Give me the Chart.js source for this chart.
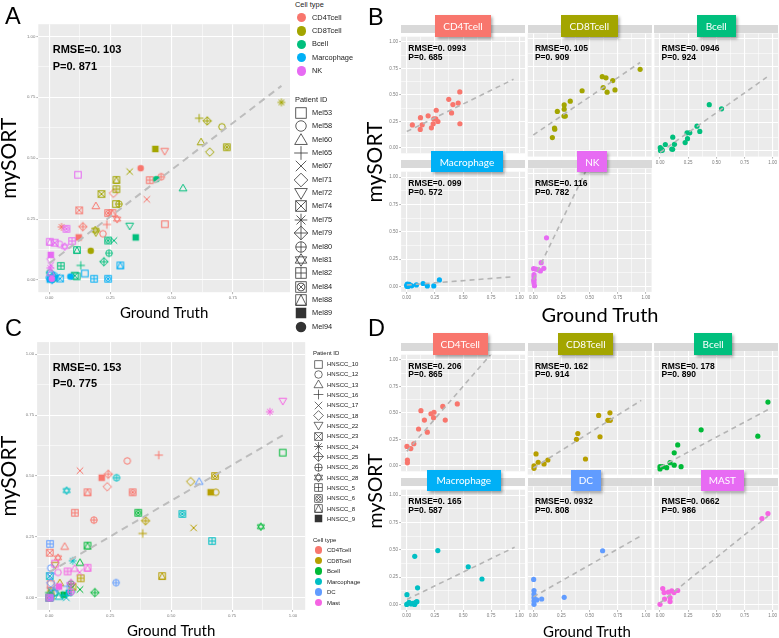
<!DOCTYPE html>
<html><head><meta charset="utf-8">
<script src="https://cdn.jsdelivr.net/npm/chart.js@4.4.1/dist/chart.umd.min.js"></script>
<style>
html,body{margin:0;padding:0;background:#fff;overflow:hidden}
#fig{position:relative;width:779px;height:638px;overflow:hidden;font-family:"Liberation Sans",Arial,sans-serif;color:#000}
.t{position:absolute;white-space:nowrap;line-height:1}
canvas{position:absolute}
.box{position:absolute;color:#fff;font-family:Lato,"Open Sans",sans-serif;font-size:10px;display:flex;align-items:center;justify-content:center;box-shadow:1.5px 2px 3px rgba(0,0,0,0.35)}
.strip{position:absolute;background:#D9D9D9}
</style></head><body><div id="fig"></div>
<script>
// ---------------- DATA ----------------
const tickLabels = ['0.00','0.25','0.50','0.75','1.00'];

// Melanoma (panels A, B)
const melPatients = ['Mel53','Mel58','Mel60','Mel65','Mel67','Mel71','Mel72','Mel74','Mel75','Mel79','Mel80','Mel81','Mel82','Mel84','Mel88','Mel89','Mel94'];
const melCellTypes = ['CD4Tcell','CD8Tcell','Bcell','Marcophage','NK'];
const melFacetLabels = ['CD4Tcell','CD8Tcell','Bcell','Macrophage','NK'];
const melColors = ['#F8766D','#A3A500','#00BF7D','#00B0F6','#E76BF3'];
// [patient, ground truth, mySORT]
const mel_CD4Tcell = [['Mel75',0.050,0.218],['Mel89',0.120,0.175],['Mel74',0.122,0.286],['Mel79',0.137,0.219],['Mel60',0.190,0.304],['Mel58',0.219,0.190],['Mel65',0.235,0.228],['Mel84',0.240,0.275],['Mel71',0.262,0.356],['Mel88',0.258,0.275],['Mel81',0.277,0.250],['Mel67',0.398,0.331],['Mel94',0.373,0.459],['Mel82',0.410,0.410],['Mel80',0.457,0.424],['Mel72',0.471,0.529],['Mel53',0.472,0.229]];
const mel_CD8Tcell = [['Mel75',0.948,0.729],['Mel65',0.612,0.664],['Mel79',0.645,0.653],['Mel58',0.705,0.629],['Mel60',0.620,0.566],['Mel84',0.725,0.545],['Mel71',0.655,0.525],['Mel89',0.433,0.538],['Mel67',0.328,0.445],['Mel88',0.274,0.411],['Mel82',0.274,0.373],['Mel74',0.213,0.353],['Mel53',0.272,0.312],['Mel80',0.284,0.312],['Mel81',0.188,0.205],['Mel72',0.190,0.195],['Mel94',0.169,0.120]];
const mel_Bcell = [['Mel60',0.546,0.377],['Mel94',0.437,0.414],['Mel72',0.328,0.222],['Mel89',0.353,0.175],['Mel84',0.240,0.162],['Mel67',0.264,0.162],['Mel80',0.244,0.110],['Mel79',0.223,0.075],['Mel65',0.128,0.060],['Mel88',0.113,0.123],['Mel82',0.047,0.058],['Mel74',0.104,0.018],['Mel53',0.112,0.015],['Mel58',0.002,0.030],['Mel71',0.015,0.015],['Mel75',0.004,0.004],['Mel81',0.020,0.006]];
const mel_Marcophage = [['Mel88',0.290,0.060],['Mel53',0.145,0.027],['Mel82',0.183,0.005],['Mel84',0.240,0.005],['Mel94',0.086,0.014],['Mel74',0.044,0.006],['Mel80',0.021,0.018],['Mel58',0.000,0.010],['Mel65',0.010,0.000],['Mel67',0.030,0.012],['Mel72',0.005,0.022],['Mel79',0.015,0.004],['Mel89',0.002,0.002]];
const mel_NK = [['Mel53',0.117,0.432],['Mel84',0.070,0.210],['Mel82',0.093,0.160],['Mel81',0.063,0.137],['Mel58',0.042,0.147],['Mel88',0.002,0.157],['Mel74',0.022,0.153],['Mel89',0.006,0.103],['Mel71',0.006,0.085],['Mel67',0.006,0.060],['Mel75',0.004,0.050],['Mel60',0.006,0.030],['Mel94',0.010,0.005]];
const statsA = ['0. 103','0. 871'];
const statsB = [['0. 0993','0. 685'],['0. 105','0. 909'],['0. 0946','0. 924'],['0. 099','0. 572'],['0. 116','0. 782']];
// fitted dashed lines [x0, y0, x1, y1]
const fitA = [0, 0.069, 0.948, 0.797];
const fitB = [[0,0.155,0.948,0.648],[0,0.143,0.948,0.790],[0,-0.013,0.948,0.659],[0,0.013,0.948,0.089],[0,0.058,0.948,2.03]];

// HNSCC (panels C, D)
const hnPatients = ['HNSCC_10','HNSCC_12','HNSCC_13','HNSCC_16','HNSCC_17','HNSCC_18','HNSCC_22','HNSCC_23','HNSCC_24','HNSCC_25','HNSCC_26','HNSCC_28','HNSCC_5','HNSCC_6','HNSCC_8','HNSCC_9'];
const hnCellTypes = ['CD4Tcell','CD8Tcell','Bcell','Marcophage','DC','Mast'];
const hnFacetLabels = ['CD4Tcell','CD8Tcell','Bcell','Macrophage','DC','MAST'];
const hnColors = ['#F8766D','#B79F00','#00BA38','#00BFC4','#619CFF','#F564E3'];
const hn_CD4Tcell = [['HNSCC_17',0.126,0.522],['HNSCC_9',0.215,0.493],['HNSCC_25',0.242,0.507],['HNSCC_12',0.320,0.562],['HNSCC_16',0.449,0.586],['HNSCC_18',0.238,0.456],['HNSCC_8',0.157,0.433],['HNSCC_6',0.342,0.433],['HNSCC_5',0.105,0.349],['HNSCC_26',0.183,0.319],['HNSCC_13',0.063,0.210],['HNSCC_23',0.002,0.185],['HNSCC_28',0.036,0.164],['HNSCC_10',0.006,0.056],['HNSCC_22',0.006,0.030]];
const hn_CD8Tcell = [['HNSCC_18',0.580,0.477],['HNSCC_6',0.680,0.500],['HNSCC_9',0.662,0.433],['HNSCC_12',0.683,0.433],['HNSCC_17',0.592,0.287],['HNSCC_25',0.395,0.316],['HNSCC_16',0.383,0.264],['HNSCC_8',0.463,0.089],['HNSCC_5',0.129,0.080],['HNSCC_13',0.043,0.060],['HNSCC_22',0.024,0.134],['HNSCC_23',0.095,0.045],['HNSCC_10',0.006,0.006],['HNSCC_24',0.006,0.027]];
const hn_Bcell = [['HNSCC_10',0.958,0.596],['HNSCC_28',0.868,0.292],['HNSCC_6',0.365,0.349],['HNSCC_8',0.157,0.214],['HNSCC_13',0.126,0.144],['HNSCC_17',0.126,0.034],['HNSCC_25',0.187,0.021],['HNSCC_26',0.089,0.056],['HNSCC_9',0.059,0.012],['HNSCC_12',0.024,0.021],['HNSCC_16',0.000,0.021],['HNSCC_5',0.000,0.000]];
const hn_Marcophage = [['HNSCC_28',0.071,0.440],['HNSCC_26',0.276,0.493],['HNSCC_6',0.546,0.344],['HNSCC_5',0.668,0.233],['HNSCC_24',0.096,0.152],['HNSCC_23',0.002,0.089],['HNSCC_10',0.000,0.000],['HNSCC_12',0.020,0.020],['HNSCC_13',0.040,0.005],['HNSCC_16',0.055,0.010],['HNSCC_17',0.070,0.000],['HNSCC_9',0.080,0.020],['HNSCC_18',0.090,0.025]];
const hn_DC = [['HNSCC_13',0.615,0.477],['HNSCC_26',0.274,0.062],['HNSCC_5',0.003,0.221],['HNSCC_12',0.006,0.122],['HNSCC_22',0.006,0.090],['HNSCC_18',0.006,0.060],['HNSCC_17',0.006,0.030],['HNSCC_9',0.006,0.000],['HNSCC_25',0.030,0.039],['HNSCC_16',0.074,0.047]];
const hn_Mast = [['HNSCC_22',0.958,0.808],['HNSCC_24',0.905,0.764],['HNSCC_8',0.157,0.123],['HNSCC_13',0.104,0.120],['HNSCC_17',0.124,0.104],['HNSCC_5',0.075,0.108],['HNSCC_10',0.024,0.140],['HNSCC_12',0.036,0.104],['HNSCC_25',0.089,0.059],['HNSCC_26',0.089,0.024],['HNSCC_9',0.040,0.046],['HNSCC_6',0.000,0.000]];
const statsC = ['0. 153','0. 775'];
const statsD = [['0. 206','0. 865'],['0. 162','0. 914'],['0. 178','0. 890'],['0. 165','0. 587'],['0. 0932','0. 808'],['0. 0662','0. 986']];
const fitC = [0, 0.105, 0.958, 0.667];
const fitD = [[0,0.138,0.958,1.313],[0,0.009,0.958,0.611],[0,0.017,0.958,0.528],[0,0.045,0.958,0.524],[0,0.066,0.958,0.611],[0,0.012,0.958,0.786]];

// ---------------- DRAWING ----------------
const fig = document.getElementById('fig');
Chart.defaults.font.family = '"Liberation Sans", Arial, sans-serif';

function drawGlyph(ctx, k, cx, cy, s, col, lw) {
  const h = s / 2;
  ctx.save();
  ctx.strokeStyle = col; ctx.fillStyle = col; ctx.lineWidth = lw;
  const line = (x1,y1,x2,y2) => { ctx.beginPath(); ctx.moveTo(x1,y1); ctx.lineTo(x2,y2); ctx.stroke(); };
  const sq = () => ctx.strokeRect(cx-h, cy-h, s, s);
  const circ = (r) => { ctx.beginPath(); ctx.arc(cx,cy,r,0,Math.PI*2); ctx.stroke(); };
  const poly = (pts) => { ctx.beginPath(); pts.forEach((p,i)=> i ? ctx.lineTo(p[0],p[1]) : ctx.moveTo(p[0],p[1])); ctx.closePath(); ctx.stroke(); };
  const plus = (r) => { line(cx-r,cy,cx+r,cy); line(cx,cy-r,cx,cy+r); };
  const cross = (r) => { line(cx-r,cy-r,cx+r,cy+r); line(cx-r,cy+r,cx+r,cy-r); };
  const dia = () => poly([[cx,cy-h*1.3],[cx+h*1.3,cy],[cx,cy+h*1.3],[cx-h*1.3,cy]]);
  switch (k) {
    case 0: sq(); break;
    case 1: circ(h); break;
    case 2: poly([[cx,cy-h*1.2],[cx+h*1.2,cy+h*0.85],[cx-h*1.2,cy+h*0.85]]); break;
    case 3: plus(h*1.3); break;
    case 4: cross(h); break;
    case 5: dia(); break;
    case 6: poly([[cx,cy+h*1.2],[cx+h*1.2,cy-h*0.85],[cx-h*1.2,cy-h*0.85]]); break;
    case 7: sq(); cross(h); break;
    case 8: plus(h*1.2); cross(h*0.85); break;
    case 9: dia(); plus(h*1.3); break;
    case 10: circ(h); plus(h); break;
    case 11: poly([[cx,cy-h*1.2],[cx+h*1.1,cy+h*0.6],[cx-h*1.1,cy+h*0.6]]); poly([[cx,cy+h*1.2],[cx+h*1.1,cy-h*0.6],[cx-h*1.1,cy-h*0.6]]); break;
    case 12: sq(); plus(h); break;
    case 13: sq(); circ(h*0.75); cross(h*0.53); break;
    case 14: sq(); poly([[cx-h,cy+h],[cx,cy-h],[cx+h,cy+h]]); break;
    case 15: ctx.fillRect(cx-h, cy-h, s, s); break;
    case 16: ctx.beginPath(); ctx.arc(cx,cy,h,0,Math.PI*2); ctx.fill(); break;
  }
  ctx.restore();
}
function newGlyph(k, col, s, lw) {
  const n = Math.ceil(s*1.7) + 2;
  const c = document.createElement('canvas'); c.width = n; c.height = n;
  drawGlyph(c.getContext('2d'), k, n/2, n/2, s, col, lw);
  return c;
}
const glyphCache = {};
function glyph(k, col, s, lw) {
  const key = k + '|' + col + '|' + s + '|' + lw;
  return glyphCache[key] || (glyphCache[key] = newGlyph(k, col, s, lw));
}

function isMajor(v) { return Math.abs(v*4 - Math.round(v*4)) < 1e-6; }
function tickText(v) { const i = Math.round(v*4); return (isMajor(v) && i >= 0 && i < tickLabels.length) ? tickLabels[i] : ''; }

function axis(range, show, size, fs, title) {
  const o = {
    type:'linear', min:range[0], max:range[1],
    afterFit(s) { if (s.isHorizontal()) s.height = size; else s.width = size; },
    ticks:{ stepSize:0.125, includeBounds:false, autoSkip:false, maxRotation:0, minRotation:0, display:show, padding:1, color:'#7a7a7a', font:{size:fs}, callback:(v)=>tickText(v) },
    grid:{ color:'#FFFFFF', lineWidth:(c)=> (c.tick && isMajor(c.tick.value)) ? 1.1 : 0.55, drawTicks:show, tickLength:2, tickWidth:0.7,
      tickColor:(c)=> (c.tick && isMajor(c.tick.value)) ? '#9a9a9a' : 'rgba(0,0,0,0)' },
    border:{ display:false }
  };
  if (title) o.title = title;
  return o;
}
const panelBg = { id:'panelBg', beforeDraw(chart) {
  const {ctx, chartArea:a} = chart; ctx.save(); ctx.fillStyle = '#EBEBEB';
  ctx.fillRect(a.left, a.top, a.right - a.left, a.bottom - a.top); ctx.restore(); } };

function makeChart(o) {
  const cv = document.createElement('canvas');
  cv.width = o.rect.w; cv.height = o.rect.h;
  cv.style.left = o.rect.l + 'px'; cv.style.top = o.rect.t + 'px';
  cv.style.width = o.rect.w + 'px'; cv.style.height = o.rect.h + 'px';
  fig.appendChild(cv);
  const pad = { left: o.plot.l - o.rect.l - o.yW, top: o.plot.t - o.rect.t,
    right: o.rect.l + o.rect.w - o.plot.r, bottom: o.rect.t + o.rect.h - o.plot.b - o.xH };
  return new Chart(cv, {
    type:'scatter', data:{ datasets:o.datasets },
    options:{ responsive:false, animation:false, devicePixelRatio:1,
      layout:{ padding:pad, autoPadding:false },
      plugins:{ legend:{display:false}, tooltip:{enabled:false} },
      scales:{ x: axis(o.xr, o.showX, o.xH, o.fs, o.xTitle), y: axis(o.yr, o.showY, o.yW, o.fs, o.yTitle) } },
    plugins:[panelBg]
  });
}
function shapeSet(rows, patients, color, order) {
  return { type:'scatter', order, data: rows.map(r => ({x:r[1], y:r[2], p:r[0]})),
    pointStyle:(c)=> glyph(patients.indexOf(c.raw.p), color, 6.5, 1), pointRadius:3, pointHoverRadius:3 };
}
function dotSet(rows, color, order) {
  return { type:'scatter', order, data: rows.map(r => ({x:r[1], y:r[2]})), pointStyle:'circle',
    pointRadius:2.6, pointHoverRadius:2.6, backgroundColor:color, borderWidth:0 };
}
function fitSet(f, w, dash, color) {
  return { type:'line', order:0, data:[{x:f[0],y:f[1]},{x:f[2],y:f[3]}], borderColor:color, borderWidth:w,
    borderDash:dash, pointRadius:0, fill:false, tension:0 };
}
function txt(s, x, y, css, mode) {
  const d = document.createElement('div');
  d.className = 't'; d.textContent = s;
  let tf = 'translate(0,-50%)';
  if (mode === 'c') tf = 'translate(-50%,-50%)';
  if (mode === 'r') tf = 'translate(-50%,-50%) rotate(-90deg)';
  d.style.cssText = 'left:' + x + 'px;top:' + y + 'px;transform:' + tf + ';' + (css || '');
  fig.appendChild(d); return d;
}
function div(cls, l, t, w, h, css) {
  const d = document.createElement('div'); d.className = cls;
  d.style.cssText = 'left:' + l + 'px;top:' + t + 'px;width:' + w + 'px;height:' + h + 'px;' + (css || '');
  fig.appendChild(d); return d;
}
function dot(cx, cy, r, col) { div('', cx - r, cy - r, 2*r, 2*r, 'position:absolute;border-radius:50%;background:' + col); }
function legendGlyph(k, cx, cy, s, col, lw) {
  const c = newGlyph(k, col, s, lw);
  c.style.left = (cx - c.width/2) + 'px'; c.style.top = (cy - c.height/2) + 'px';
  fig.appendChild(c);
}

const xTitle = (size, lh) => ({ display:true, text:'Ground Truth', color:'#000', font:{family:'Lato', size, lineHeight:lh}, padding:{top:0, bottom:0} });
const yTitle = (size, lh) => ({ display:true, text:'mySORT', color:'#000', font:{family:'Lato', size, lineHeight:lh}, padding:{top:0, bottom:0} });

// ---- Panel A ----
const melSets = [mel_CD4Tcell, mel_CD8Tcell, mel_Bcell, mel_Marcophage, mel_NK];
makeChart({ rect:{l:0,t:0,w:292,h:322}, plot:{l:38.3,t:24.2,r:290,b:292.2}, yW:38.3, xH:29.8,
  xr:[-0.045,0.983], yr:[-0.05,1.05], showX:true, showY:true, fs:4.3,
  xTitle:xTitle(15, 1.2), yTitle:yTitle(21, 0.88),
  datasets:[fitSet(fitA, 2, [7,5], '#BDBDBD')].concat(melSets.map((s,i) => shapeSet(s, melPatients, melColors[i], 5 - i))) });

// ---- Panel C ----
const hnSets = [hn_CD4Tcell, hn_CD8Tcell, hn_Bcell, hn_Marcophage, hn_DC, hn_Mast];
makeChart({ rect:{l:0,t:320,w:307,h:318}, plot:{l:37.1,t:342.1,r:305.2,b:609.9}, yW:37.1, xH:28.1,
  xr:[-0.05,1.05], yr:[-0.05,1.05], showX:true, showY:true, fs:4.3,
  xTitle:xTitle(15, 0.95), yTitle:yTitle(21, 0.88),
  datasets:[fitSet(fitC, 2, [7,5], '#BDBDBD')].concat(hnSets.map((s,i) => shapeSet(s, hnPatients, hnColors[i], 6 - i))) });

// ---- Facets B, D ----
const colsX = [[401.1,525.0],[527.7,651.6],[654.4,778.3]];
const bRows = [[33.4,156.6],[168.4,291.9]], bStrips = [[24.5,33.4],[160,168.4]];
const dRows = [[351.1,474.6],[486.4,609.9]], dStrips = [[342.5,351.1],[477.5,486.4]];
const bBoxes = [[435,15,56,21.7],[561,15,56.7,21.7],[696.7,15,39,21.7],[430.7,151,72.6,21.3],[577.3,151,30,21.3]];
const dBoxes = [[432.7,333.3,55,21.7],[558.3,333.3,55,21.7],[694,333.3,38.3,21.7],[426.7,470,74.3,20.7],[571,470,29.7,20.7],[700.7,470,43.3,20.7]];
const bBoxColors = ['#F8766D','#A3A500','#00BF7D','#00B0F6','#E76BF3'];
const dBoxColors = ['#F8766D','#A3A500','#00BF7D','#00B0F6','#619CFF','#E76BF3'];

function facetGrid(sets, colors, fits, stats, labels, rows, strips, boxes, boxColors, xShown) {
  const boxesLater = [];
  sets.forEach((rowsData, i) => {
    const r = Math.floor(i / 3), c = i % 3;
    const plot = { l:colsX[c][0], r:colsX[c][1], t:rows[r][0], b:rows[r][1] };
    const showX = xShown(i), showY = c === 0;
    div('strip', plot.l, strips[r][0], plot.r - plot.l, strips[r][1] - strips[r][0]);
    const yW = showY ? 13 : 0, xH = showX ? 9 : 0;
    const l = Math.floor(plot.l - yW), t = Math.floor(plot.t), rr = Math.ceil(plot.r), b = Math.ceil(plot.b + xH);
    makeChart({ rect:{l, t, w:rr - l, h:b - t}, plot, yW, xH, xr:[-0.05,1.05], yr:[-0.05,1.05], showX, showY, fs:4.5,
      datasets:[fitSet(fits[i], 1.6, [5,4], '#B5B5B5'), dotSet(rowsData, colors[i], 1)] });
    txt('RMSE=' + stats[i][0], plot.l + 7.2, plot.t + 14.9, 'font-weight:bold;font-size:8.5px');
    txt('P=' + stats[i][1], plot.l + 7.2, plot.t + 23.2, 'font-weight:bold;font-size:8.5px');
    boxesLater.push(i);
  });
  boxesLater.forEach(i => {
    const bx = boxes[i];
    const d = div('box', bx[0], bx[1], bx[2], bx[3], 'background:' + boxColors[i]);
    d.textContent = labels[i];
  });
}
facetGrid(melSets, melColors, fitB, statsB, melFacetLabels, bRows, bStrips, bBoxes, bBoxColors, i => i >= 2);
facetGrid(hnSets, hnColors, fitD, statsD, hnFacetLabels, dRows, dStrips, dBoxes, dBoxColors, i => i >= 3);

// ---- Stats text A, C ----
txt('RMSE=' + statsA[0], 52.7, 49.3, 'font-weight:bold;font-size:11px');
txt('P=' + statsA[1], 52.7, 65.6, 'font-weight:bold;font-size:11px');
txt('RMSE=' + statsC[0], 52.7, 366.7, 'font-weight:bold;font-size:11px');
txt('P=' + statsC[1], 52.7, 383.3, 'font-weight:bold;font-size:11px');

// ---- Axis titles B, D ----
txt('mySORT', 373, 162, 'font-family:Lato;font-size:21px', 'r');
txt('Ground Truth', 600, 313.5, 'font-family:Lato;font-size:20px', 'c');
txt('mySORT', 375, 491, 'font-family:Lato;font-size:19.5px', 'r');
txt('Ground Truth', 587, 630.5, 'font-family:Lato;font-size:15px', 'c');

// ---- Panel letters ----
txt('A', 5, 16.7, 'font-size:23.5px');
txt('B', 368, 18.3, 'font-size:23.5px');
txt('C', 5, 329, 'font-size:23.5px');
txt('D', 368, 329, 'font-size:23.5px');

// ---- Legend A ----
const lgA = 'font-size:7.4px;color:#222';
txt('Cell type', 295, 4.8, lgA);
melCellTypes.forEach((n, i) => { const y = 17.7 + i*13.33; dot(301.7, y, 4.8, melColors[i]); txt(n, 312, y, lgA); });
txt('Patient ID', 295, 99.5, lgA);
melPatients.forEach((p, i) => { const y = 113 + i*13.35; legendGlyph(i, 301.3, y, 10.5, '#333', 0.8); txt(p, 312, y, lgA); });

// ---- Legend C ----
const lgC = 'font-size:6px;color:#222';
txt('Patient ID', 313, 353.3, lgC);
hnPatients.forEach((p, i) => { const y = 364 + i*10.33; legendGlyph(i, 318.3, y, 7.5, '#333', 0.7); txt(p, 327, y, lgC); });
txt('Cell type', 313, 540, lgC);
hnCellTypes.forEach((n, i) => { const y = 550 + i*10.5; dot(318.3, y, 3.6, hnColors[i]); txt(n, 327, y, lgC); });
</script></body></html>
